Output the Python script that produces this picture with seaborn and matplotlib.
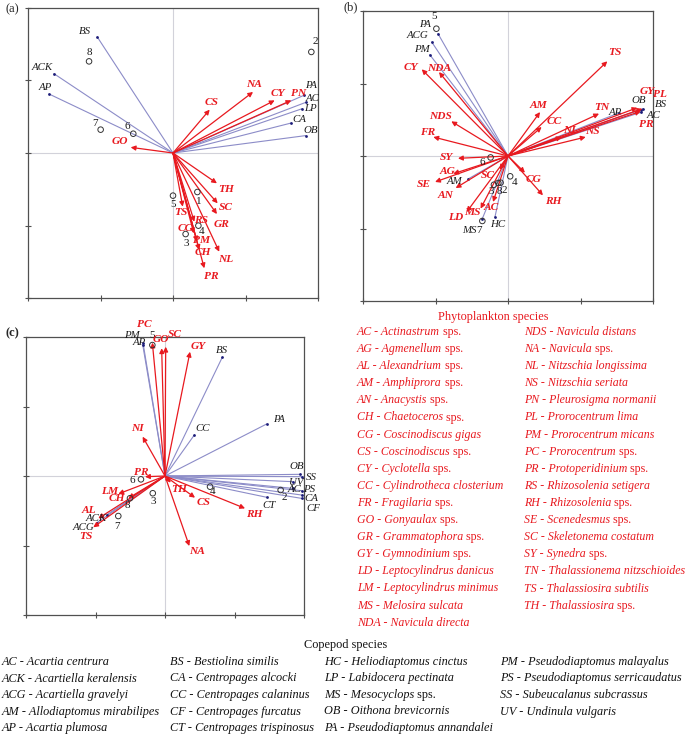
import matplotlib
matplotlib.use('Agg')
import matplotlib.pyplot as plt
import seaborn as sns
import pandas as pd

sns.set_style('white')
plt.rcParams['font.family'] = ['Liberation Serif', 'DejaVu Serif']

W, H = 685, 743
PT = 72 / 100  # pixel -> point
RED = '#e8191f'
BLUE_LINE = '#8c8cc8'
BLUE_TIP = '#1c1c78'
GRID = '#d2d2da'
FRAME = '#505050'

# ---------------- panel (a) ----------------
a_phyto = ['GO', 'CS', 'NA', 'CY', 'PN', 'TH', 'SC', 'GR', 'NL', 'PR', 'CH', 'PM', 'CC', 'RS', 'TS']
a_phyto_x = [-0.292, 0.253, 0.552, 0.701, 0.816, 0.303, 0.308, 0.303, 0.319, 0.216, 0.181, 0.166, 0.143, 0.147, 0.067]
a_phyto_y = [0.039, 0.299, 0.421, 0.363, 0.363, -0.209, -0.347, -0.421, -0.681, -0.795, -0.669, -0.611, -0.554, -0.474, -0.370]
a_cope = ['BS', 'ACK', 'AP', 'PA', 'AC', 'LP', 'CA', 'OB']
a_cope_x = [-0.522, -0.821, -0.855, 0.903, 0.915, 0.892, 0.816, 0.915]
a_cope_y = [0.800, 0.547, 0.407, 0.398, 0.349, 0.306, 0.207, 0.120]
a_sites = ['1', '2', '3', '4', '5', '6', '7', '8']
a_site_x = [0.168, 0.954, 0.087, 0.175, 0.0, -0.274, -0.499, -0.579]
a_site_y = [-0.269, 0.697, -0.559, -0.501, -0.294, 0.133, 0.161, 0.632]

# ---------------- panel (b) ----------------
b_phyto = ['TS', 'CY', 'NDA', 'NDS', 'FR', 'SY', 'AG', 'SE', 'AN', 'LD', 'MS', 'AC', 'SC', 'CG', 'RH',
           'AM', 'CC', 'NL', 'NS', 'TN', 'GY', 'PL', 'PR']
b_phyto_x = [0.685, -0.595, -0.476, -0.391, -0.515, -0.345, -0.377, -0.503, -0.361, -0.285, -0.189, -0.103,
             -0.057, 0.117, 0.241, 0.221, 0.232, 0.370, 0.536, 0.628, 0.892, 0.926, 0.915]
b_phyto_y = [0.653, 0.598, 0.579, 0.239, 0.131, -0.016, -0.122, -0.179, -0.221, -0.386, -0.363, -0.317,
             -0.094, -0.115, -0.271, 0.303, 0.200, 0.131, 0.131, 0.292, 0.333, 0.326, 0.308]
b_cope = ['PA', 'ACG', 'PM', 'AM', 'HC', 'MS', 'AP', 'OB', 'BS', 'AC']
b_cope_x = [-0.483, -0.526, -0.540, -0.274, -0.090, -0.177, 0.766, 0.915, 0.931, 0.915]
b_cope_y = [0.844, 0.786, 0.699, -0.158, -0.421, -0.432, 0.297, 0.320, 0.326, 0.301]
b_sites = ['2', '3', '4', '5', '6', '7', '8']
b_site_x = [-0.051, -0.097, 0.015, -0.494, -0.120, -0.177, -0.067]
b_site_y = [-0.184, -0.198, -0.140, 0.878, -0.010, -0.448, -0.186]

# ---------------- panel (c) ----------------
c_phyto = ['PC', 'GO', 'SC', 'GY', 'NI', 'PR', 'LM', 'CH', 'AL', 'TS', 'TH', 'CS', 'RH', 'NA']
c_phyto_x = [-0.091, -0.024, 0.005, 0.180, -0.161, -0.144, -0.336, -0.264, -0.480, -0.516, 0.041, 0.216, 0.576, 0.175]
c_phyto_y = [0.959, 0.919, 0.930, 0.894, 0.283, -0.005, -0.129, -0.160, -0.305, -0.369, -0.048, -0.156, -0.233, -0.504]
c_cope = ['PM', 'AP', 'BS', 'CC', 'PA', 'OB', 'SS', 'UV', 'AC', 'PS', 'CA', 'CF', 'CT', 'ACK', 'ACG']
c_cope_x = [-0.158, -0.160, 0.412, 0.211, 0.731, 0.971, 0.983, 0.923, 0.918, 0.983, 0.983, 0.983, 0.731, -0.420, -0.490]
c_cope_y = [0.957, 0.942, 0.854, 0.295, 0.374, 0.012, -0.005, -0.041, -0.089, -0.106, -0.137, -0.161, -0.153, -0.280, -0.336]
c_sites = ['2', '3', '4', '5', '6', '7', '8']
c_site_x = [0.832, -0.088, 0.324, -0.091, -0.173, -0.336, -0.252]
c_site_y = [-0.101, -0.124, -0.077, 0.942, -0.024, -0.288, -0.160]

# label offsets (pixels, label centre relative to the point)
a_phyto_off = {'GO': (-11, 6), 'CS': (2, 7), 'NA': (1, 7), 'CY': (3, 7), 'PN': (7, 7), 'TH': (9, -6),
               'SC': (8, -4), 'GR': (5, -10), 'NL': (6, -8), 'PR': (7, -8), 'CH': (4, -2), 'PM': (4, 1),
               'CC': (-9, 5), 'RS': (7, 1), 'TS': (-2, -6)}
a_cope_off = {'BS': (-12, 5), 'ACK': (-12, 6), 'AP': (-4, 6), 'PA': (7, 10), 'AC': (7, 4), 'LP': (8, 0),
              'CA': (8, 3), 'OB': (5, 5)}
a_site_off = {'1': (1, -9), '2': (4, 10), '3': (1, -9), '4': (3, -6), '5': (0, -9), '6': (-6, 7),
              '7': (-6, 6), '8': (0, 9)}
b_phyto_off = {'TS': (8, 9), 'CY': (-11, 2), 'NDA': (0, 4), 'NDS': (-11, 5), 'FR': (-6, 5), 'SY': (-11, 1),
               'AG': (-6, 2), 'SE': (-11, -3), 'AN': (-10, -7), 'LD': (-11, -6), 'MS': (-8, -4), 'AC': (-2, -6),
               'SC': (-12, -6), 'CG': (9, -7), 'RH': (10, -6), 'AM': (-2, 7), 'CC': (13, 6), 'NL': (9, 7),
               'NS': (7, 6), 'TN': (3, 6), 'GY': (10, 16), 'PL': (18, 14), 'PR': (6, -13)}
b_cope_off = {'PA': (-13, 9), 'ACG': (-14, 7), 'PM': (-8, 5), 'AM': (-14, -3), 'HC': (3, -7), 'MS': (-13, -12),
              'AP': (-4, 0), 'OB': (-2, 9), 'BS': (18, 4), 'AC': (13, -3)}
b_site_off = {'2': (4, -8), '3': (-3, -7), '4': (4, -6), '5': (-2, 12), '6': (-8, -5), '7': (-3, -10), '8': (1, -9)}
c_phyto_off = {'PC': (-8, 18), 'GO': (-1, 9), 'SC': (9, 12), 'GY': (8, 5), 'NI': (-5, 8), 'PR': (-4, 4),
               'LM': (-9, 2), 'CH': (-11, 0), 'AL': (-9, 8), 'TS': (-7, -9), 'TH': (8, -7), 'CS': (9, -5),
               'RH': (9, -6), 'NA': (8, -5)}
c_cope_off = {'PM': (-11, 7), 'AP': (-4, 3), 'BS': (0, 7), 'CC': (8, 6), 'PA': (12, 5), 'OB': (-3, 8),
              'SS': (10, -1), 'UV': (3, -1), 'AC': (2, -1), 'PS': (7, 1), 'CA': (10, -3), 'CF': (12, -10),
              'CT': (2, -8), 'ACK': (-10, -4), 'ACG': (-13, -5)}
c_site_off = {'2': (4, -7), '3': (0, -8), '4': (3, -5), '5': (0, 10), '6': (-9, -1), '7': (-1, -10), '8': (-3, -7)}

# ---------------- species lists ----------------
phyto_left = [('AC', 'Actinastrum', ' sps.'), ('AG', 'Agmenellum', ' sps.'), ('AL', 'Alexandrium', ' sps.'),
              ('AM', 'Amphiprora', ' sps.'), ('AN', 'Anacystis', ' sps.'), ('CH', 'Chaetoceros', ' sps.'),
              ('CG', 'Coscinodiscus gigas', ''), ('CS', 'Coscinodiscus', ' sps.'), ('CY', 'Cyclotella', ' sps.'),
              ('CC', 'Cylindrotheca closterium', ''), ('FR', 'Fragilaria', ' sps.'), ('GO', 'Gonyaulax', ' sps.'),
              ('GR', 'Grammatophora', ' sps.'), ('GY', 'Gymnodinium', ' sps.'), ('LD', 'Leptocylindrus danicus', ''),
              ('LM', 'Leptocylindrus minimus', ''), ('MS', 'Melosira sulcata', ''), ('NDA', 'Navicula directa', '')]
phyto_right = [('NDS', 'Navicula distans', ''), ('NA', 'Navicula', ' sps.'), ('NL', 'Nitzschia longissima', ''),
               ('NS', 'Nitzschia seriata', ''), ('PN', 'Pleurosigma normanii', ''), ('PL', 'Prorocentrum lima', ''),
               ('PM', 'Prorocentrum micans', ''), ('PC', 'Prorocentrum', ' sps.'), ('PR', 'Protoperidinium', ' sps.'),
               ('RS', 'Rhizosolenia setigera', ''), ('RH', 'Rhizosolenia', ' sps.'), ('SE', 'Scenedesmus', ' sps.'),
               ('SC', 'Skeletonema costatum', ''), ('SY', 'Synedra', ' sps.'),
               ('TN', 'Thalassionema nitzschioides', ''), ('TS', 'Thalassiosira subtilis', ''),
               ('TH', 'Thalassiosira', ' sps.')]
cope_cols = [
    [('AC', 'Acartia centrura', ''), ('ACK', 'Acartiella keralensis', ''), ('ACG', 'Acartiella gravelyi', ''),
     ('AM', 'Allodiaptomus mirabilipes', ''), ('AP', 'Acartia plumosa', '')],
    [('BS', 'Bestiolina similis', ''), ('CA', 'Centropages alcocki', ''), ('CC', 'Centropages calaninus', ''),
     ('CF', 'Centropages furcatus', ''), ('CT', 'Centropages trispinosus', '')],
    [('HC', 'Heliodiaptomus cinctus', ''), ('LP', 'Labidocera pectinata', ''), ('MS', 'Mesocyclops', ' sps.'),
     ('OB', 'Oithona brevicornis', ''), ('PA', 'Pseudodiaptomus annandalei', '')],
    [('PM', 'Pseudodiaptomus malayalus', ''), ('PS', 'Pseudodiaptomus serricaudatus', ''),
     ('SS', 'Subeucalanus subcrassus', ''), ('UV', 'Undinula vulgaris', '')],
]

fig = plt.figure(figsize=(W / 100, H / 100), dpi=100)


def px_axes(left, top, width, height):
    return fig.add_axes([left / W, 1 - (top + height) / H, width / W, height / H])


def biplot(ax, phyto, px, py, poff, cope, cx, cy, coff, sites, sx, sy, soff):
    ax.axhline(0, color=GRID, lw=0.8, zorder=0)
    ax.axvline(0, color=GRID, lw=0.8, zorder=0)

    # copepod vectors
    for x, y in zip(cx, cy):
        ax.plot([0, x], [0, y], color=BLUE_LINE, lw=0.8, zorder=2)
    cdf = pd.DataFrame({'x': cx, 'y': cy})
    sns.scatterplot(data=cdf, x='x', y='y', ax=ax, color=BLUE_TIP, s=4, linewidth=0, zorder=3)
    for n, x, y in zip(cope, cx, cy):
        dx, dy = coff[n]
        ax.annotate(n, (x, y), xytext=(dx * PT, dy * PT), textcoords='offset points', ha='center',
                    va='center', fontsize=7.8, style='italic', color='#1a1a1a', annotation_clip=False, zorder=6)

    # phytoplankton vectors
    for n, x, y in zip(phyto, px, py):
        ax.annotate('', xy=(x, y), xytext=(0, 0),
                    arrowprops=dict(arrowstyle='-|>', color=RED, lw=0.9, mutation_scale=7,
                                    shrinkA=0, shrinkB=0), zorder=4)
        dx, dy = poff[n]
        ax.annotate(n, (x, y), xytext=(dx * PT, dy * PT), textcoords='offset points', ha='center',
                    va='center', fontsize=8.2, style='italic', fontweight='bold', color=RED,
                    annotation_clip=False, zorder=7)

    # sampling sites
    sdf = pd.DataFrame({'x': sx, 'y': sy})
    sns.scatterplot(data=sdf, x='x', y='y', ax=ax, marker='o', s=16, facecolor='none',
                    edgecolor='#333333', linewidth=0.7, zorder=5)
    for n, x, y in zip(sites, sx, sy):
        dx, dy = soff[n]
        ax.annotate(n, (x, y), xytext=(dx * PT, dy * PT), textcoords='offset points', ha='center',
                    va='center', fontsize=8, color='#1a1a1a', annotation_clip=False, zorder=6)

    ax.set_xlim(-1, 1)
    ax.set_ylim(-1, 1)
    ax.set_xticks([-1, -0.5, 0, 0.5, 1])
    ax.set_yticks([-1, -0.5, 0, 0.5, 1])
    ax.set_xticklabels([])
    ax.set_yticklabels([])
    ax.set_xlabel('')
    ax.set_ylabel('')
    ax.tick_params(direction='inout', length=4, width=0.8, color=FRAME, bottom=True, left=True)
    for sp in ax.spines.values():
        sp.set_color(FRAME)
        sp.set_linewidth(0.9)


ax_a = px_axes(28, 8, 290, 290)
biplot(ax_a, a_phyto, a_phyto_x, a_phyto_y, a_phyto_off, a_cope, a_cope_x, a_cope_y, a_cope_off,
       a_sites, a_site_x, a_site_y, a_site_off)
ax_b = px_axes(363, 11, 290, 290)
biplot(ax_b, b_phyto, b_phyto_x, b_phyto_y, b_phyto_off, b_cope, b_cope_x, b_cope_y, b_cope_off,
       b_sites, b_site_x, b_site_y, b_site_off)
ax_c = px_axes(26, 337, 278, 278)
biplot(ax_c, c_phyto, c_phyto_x, c_phyto_y, c_phyto_off, c_cope, c_cope_x, c_cope_y, c_cope_off,
       c_sites, c_site_x, c_site_y, c_site_off)

# text layer in pixel coordinates
tax = fig.add_axes([0, 0, 1, 1], zorder=10)
tax.set_xlim(0, W)
tax.set_ylim(H, 0)
tax.axis('off')
tax.patch.set_alpha(0)

tax.text(12, 9, '(a)', fontsize=9, ha='center', va='center')
tax.text(351, 7, '(b)', fontsize=9, ha='center', va='center')
tax.text(12, 333, '(c)', fontsize=9, fontweight='bold', ha='center', va='center')


def entry(x, y, code, name, suffix, color, size):
    t = tax.text(x, y, f'{code} - {name}', color=color, fontsize=size, style='italic',
                 ha='left', va='center')
    if suffix:
        tax.annotate(suffix, xy=(1, 0.5), xycoords=t, color=color, fontsize=size,
                     ha='left', va='center')


tax.text(493, 317, 'Phytoplankton species', color=RED, fontsize=8.8, ha='center', va='center')
for i, (code, name, suf) in enumerate(phyto_left):
    entry(357, 332 + i * 17.1, code, name, suf, RED, 8.6)
for i, (code, name, suf) in enumerate(phyto_right):
    entry(524, 332 + i * 17.1, code, name, suf, RED, 8.6)

tax.text(346, 645, 'Copepod species', color='#111111', fontsize=8.8, ha='center', va='center')
for col_x, col in zip([2, 170, 324, 500], cope_cols):
    for i, (code, name, suf) in enumerate(col):
        entry(col_x, 662 + i * 16.5, code, name, suf, '#111111', 8.8)

fig.savefig('out.png', dpi=100)
